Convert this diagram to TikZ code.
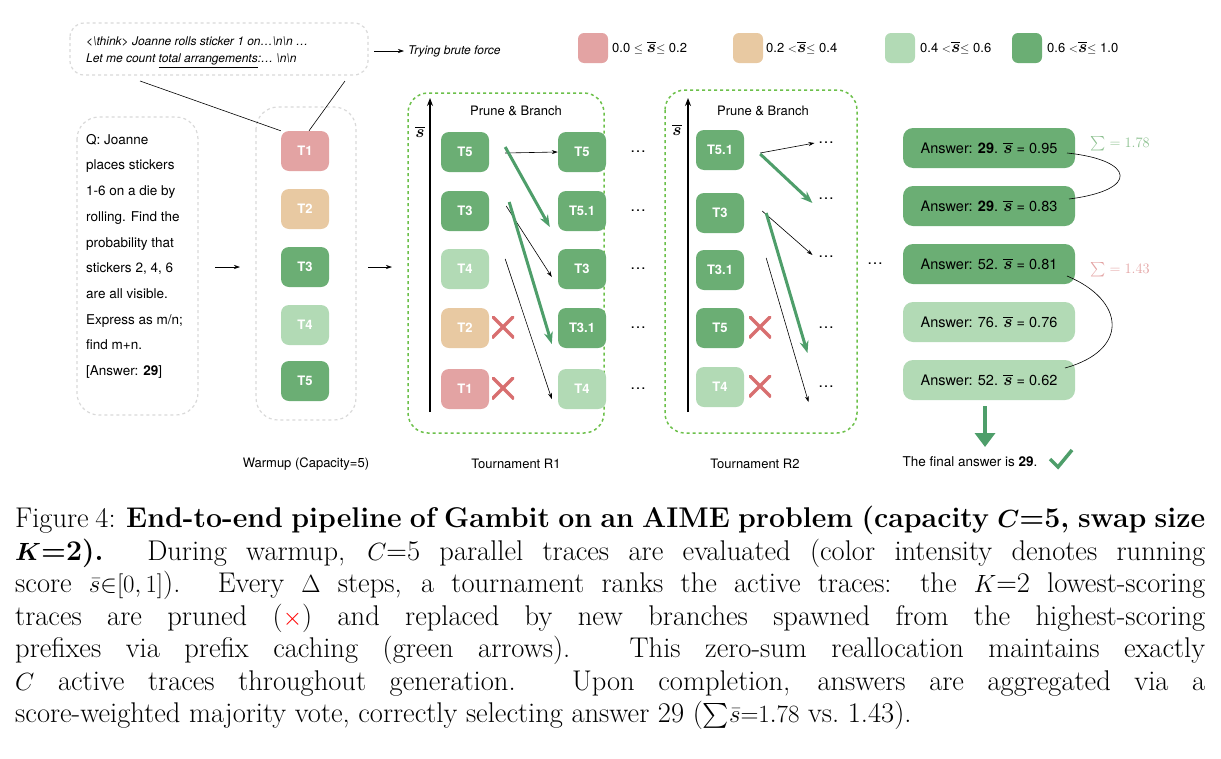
\documentclass[tikz,border=0pt]{standalone}
\usepackage{fontspec}
\usepackage{amsmath}
\newfontfamily\hel{TeX Gyre Heros}
\usetikzlibrary{arrows.meta}
\definecolor{cpink}{HTML}{E3A3A3}
\definecolor{ctan}{HTML}{E8C9A2}
\definecolor{clight}{HTML}{B2DAB5}
\definecolor{cdark}{HTML}{6BAE74}
\definecolor{carr}{HTML}{4E9E6A}
\definecolor{ccross}{HTML}{D86F70}
\definecolor{cdash}{HTML}{6CC04A}
\definecolor{sumg}{HTML}{8CC08F}
\definecolor{sumr}{HTML}{E3A3A3}
\newcommand{\sbar}{{\fontsize{18}{18}\selectfont\boldmath$\overline{s}$}}
\begin{document}
\begin{tikzpicture}[x=1pt,y=-1pt,
 tr/.style={rounded corners=8pt,minimum width=48pt,minimum height=40pt,inner sep=0pt,font=\hel\fontsize{13}{13}\selectfont\bfseries,text=white},
 pk/.style={tr,fill=cpink}, tn/.style={tr,fill=ctan}, lg/.style={tr,fill=clight}, dg/.style={tr,fill=cdark},
 gbox/.style={draw=black!15,dashed,line width=1.2pt,rounded corners=22pt},
 grn/.style={draw=cdash,dashed,line width=1.5pt,rounded corners=20pt},
 thin/.style={-{Stealth[length=6pt,width=4pt]},line width=0.6pt},
 thick/.style={-{Stealth[length=12pt,width=9pt]},line width=3pt,draw=carr},
 cross/.style={minimum size=22pt,inner sep=0pt,
   path picture={\draw[ccross,line width=3.5pt] (path picture bounding box.north west)--(path picture bounding box.south east) (path picture bounding box.north east)--(path picture bounding box.south west);}},
 dots/.style={font=\hel\fontsize{16}{16}\selectfont},
 lbl/.style={font=\hel\fontsize{13}{13}\selectfont},
 ans/.style={rounded corners=10pt,minimum width=172pt,minimum height=40pt,inner sep=0pt,font=\hel\fontsize{14.5}{14.5}\selectfont},
 sw/.style={rounded corners=6pt,minimum width=30pt,minimum height=30pt,inner sep=0pt}]
\useasboundingbox (0,0) rectangle (1221,758);
% question
\draw[gbox] (77,117) rectangle (198,415);
\node[anchor=north west,align=left,inner sep=0pt,font=\hel\fontsize{13.5}{25.7}\selectfont] (q) at (86,134)
 {Q: Joanne\\places stickers\\1-6 on a die by\\rolling. Find the\\probability that\\stickers 2, 4, 6\\are all visible.\\Express as m/n;\\find m+n.\\{[}Answer: \textbf{29}{]}};
% callout
\draw[gbox,rounded corners=14pt] (70,23) rectangle (368,75);
\node[anchor=north west,align=left,inner sep=0pt,font=\hel\itshape\fontsize{12}{16.5}\selectfont] (call) at (86,37)
 {<\textbackslash think> Joanne rolls sticker 1 on…\textbackslash n\textbackslash n …\\Let me count \underline{total arrangements}:… \textbackslash n\textbackslash n};
\coordinate (c1) at (140,81); \coordinate (c2) at (345,81);
\coordinate (b1) at (374,51);
\node[anchor=west,inner sep=0pt,font=\hel\itshape\fontsize{12}{12}\selectfont] (brute) at (408,51) {Trying brute force};
\draw[thin] (b1) -- ([xshift=-4pt]brute.west);
% legend
\node[sw,fill=cpink] (l1) at (593,48) {};
\node[anchor=west,lbl,inner sep=0pt] at (612,48) {0.0 $\leq$ \sbar$\leq$ 0.2};
\node[sw,fill=ctan] (l2) at (748,48) {};
\node[anchor=west,lbl,inner sep=0pt] at (766,48) {0.2 $<$\sbar$\leq$ 0.4};
\node[sw,fill=clight] (l3) at (900,48) {};
\node[anchor=west,lbl,inner sep=0pt] at (920,48) {0.4 $<$\sbar$\leq$ 0.6};
\node[sw,fill=cdark] (l4) at (1027,48) {};
\node[anchor=west,lbl,inner sep=0pt] at (1047,48) {0.6 $<$\sbar$\leq$ 1.0};
% warmup
\draw[gbox] (256,107) rectangle (356,420);
\node[pk] (w1) at (305,151) {T1};
\node[tn] (w2) at (305,209) {T2};
\node[dg] (w3) at (305,267) {T3};
\node[lg] (w4) at (305,325) {T4};
\node[dg] (w5) at (305,381) {T5};
\node[lbl] at (306,464) {Warmup (Capacity=5)};
\draw[line width=0.6pt] (c1) -- (w1.north west);
\draw[line width=0.6pt] (c2) -- ([xshift=4pt]w1.north);
\coordinate (a1) at (215,267); \coordinate (a2) at (240,267);
\draw[thin] (a1) -- (a2);
\coordinate (a3) at (368,267); \coordinate (a4) at (392,267);
\draw[thin] (a3) -- (a4);
% R1
\draw[grn] (408,93) rectangle (604,433);
\coordinate (ax1b) at (430,412); \coordinate (ax1t) at (430,98);
\draw[-{Stealth[length=8pt,width=6pt]},line width=1.2pt] (ax1b) -- (ax1t);
\node at (420,132) {\sbar};
\node[lbl] at (516,111) {Prune \& Branch};
\node[dg] (r1a) at (465,152) {T5};
\node[dg] (r1b) at (465,211) {T3};
\node[lg] (r1c) at (465,269) {T4};
\node[tn] (r1d) at (465,328) {T2};
\node[pk] (r1e) at (465,389) {T1};
\node[cross] (x1) at (503,327) {};
\node[cross] (x2) at (503,388) {};
\node[dg] (s1a) at (582,152) {T5};
\node[dg] (s1b) at (582,211) {T5.1};
\node[dg] (s1c) at (582,269) {T3};
\node[dg] (s1d) at (582,328) {T3.1};
\node[lg] (s1e) at (582,389) {T4};
\draw[thin] ([xshift=16pt,yshift=-1pt]r1a.east) -- (s1a.west);
\draw[thick] ([xshift=16pt,yshift=5pt]r1a.east) -- ([xshift=-8pt,yshift=-16pt]s1b.west);
\draw[thin] ([xshift=17pt,yshift=5pt]r1b.east) -- ([xshift=-6pt,yshift=-8pt]s1c.west);
\draw[thick] ([xshift=20pt,yshift=9pt]r1b.east) -- ([xshift=-6pt,yshift=-16pt]s1d.west);
\draw[thin] ([xshift=16pt,yshift=10pt]r1c.east) -- ([xshift=-6pt,yshift=-10pt]s1e.west);
\foreach \y in {152,211,269,328,389} \node[dots] at (638,\y) {…};
\node[lbl] at (516,464) {Tournament R1};
% R2
\draw[grn] (665,90) rectangle (857,433);
\coordinate (ax2b) at (688,412); \coordinate (ax2t) at (688,98);
\draw[-{Stealth[length=8pt,width=6pt]},line width=1.2pt] (ax2b) -- (ax2t);
\node at (677,130) {\sbar};
\node[lbl] at (763,111) {Prune \& Branch};
\node[dg] (r2a) at (720,150) {T5.1};
\node[dg] (r2b) at (720,213) {T3};
\node[dg] (r2c) at (720,270) {T3.1};
\node[dg] (r2d) at (720,328) {T5};
\node[lg] (r2e) at (720,387) {T4};
\node[cross] (x3) at (760,327) {};
\node[cross] (x4) at (760,386) {};
\node[dots] (d1) at (826,143) {…};
\node[dots] (d2) at (826,199) {…};
\node[dots] (d3) at (826,257) {…};
\node[dots] (d4) at (826,328) {…};
\node[dots] (d5) at (826,387) {…};
\draw[thin] ([xshift=16pt,yshift=-3pt]r2a.east) -- (d1.west);
\draw[thick] ([xshift=16pt,yshift=-4pt]r2a.east) -- ([xshift=-2pt,yshift=-4pt]d2.west);
\draw[thin] ([xshift=18pt,yshift=2pt]r2b.east) -- ([xshift=-2pt,yshift=2pt]d3.west);
\draw[thick] ([xshift=22pt,yshift=0pt]r2b.east) -- ([xshift=-7pt,yshift=-25pt]d4.west);
\draw[thin] ([xshift=22pt,yshift=12pt]r2c.east) -- ([xshift=-6pt,yshift=-15pt]d5.west);
\node[lbl] at (755,464) {Tournament R2};
\node[dots] at (875,264) {…};
% answers
\node[ans,fill=cdark] (n1) at (989,148) {Answer: \textbf{29}. \sbar\ = 0.95};
\node[ans,fill=cdark] (n2) at (989,206) {Answer: \textbf{29}. \sbar\ = 0.83};
\node[ans,fill=cdark] (n3) at (989,264) {Answer: 52. \sbar\ = 0.81};
\node[ans,fill=clight] (n4) at (989,322) {Answer: 76. \sbar\ = 0.76};
\node[ans,fill=clight] (n5) at (989,380) {Answer: 52. \sbar\ = 0.62};
\node[text=sumg,font=\fontsize{15}{15}\selectfont] at (1120,144) {$\sum = 1.78$};
\node[text=sumr,font=\fontsize{15}{15}\selectfont] at (1120,270) {$\sum = 1.43$};
\coordinate (k1) at (1067,153); \coordinate (k2) at (1069,199);
\coordinate (k3) at (1067,276); \coordinate (k4) at (1065,368);
\draw[line width=0.6pt] (k1) .. controls (1135,160) and (1140,190) .. (k2);
\draw[line width=0.6pt] (k3) .. controls (1125,300) and (1130,350) .. (k4);
\coordinate (dn) at (985,447);
\draw[-{Triangle[length=14pt,width=20pt]},line width=4pt,draw=carr] (n5.south -| dn) ++(0,6) -- (dn);
\node[lbl,anchor=west,font=\hel\fontsize{13.5}{13.5}\selectfont] (fin) at (899,462) {The final answer is \textbf{29}.};
\coordinate (ck1) at (1050,459); \coordinate (ck2) at (1058,467); \coordinate (ck3) at (1072,450);
\draw[carr,line width=3.5pt] (ck1) -- (ck2) -- (ck3);
% caption
\node[anchor=north west,inner sep=0pt,text width=1190pt,align=justify,font=\fontsize{28.5}{32.5}\selectfont] (cap) at (15,506)
{Figure 4: \textbf{End-to-end pipeline of Gambit on an AIME problem (capacity {\boldmath$C$}=5, swap size}\linebreak
\textbf{{\boldmath$K$}=2).} During warmup, $C$=5 parallel traces are evaluated (color intensity denotes running\linebreak
score $\bar{s}{\in}[0,1]$). Every $\Delta$ steps, a tournament ranks the active traces: the $K$=2 lowest-scoring\linebreak
traces are pruned ({\color{red}$\times$}) and replaced by new branches spawned from the highest-scoring\linebreak
prefixes via prefix caching (green arrows). This zero-sum reallocation maintains exactly\linebreak
$C$ active traces throughout generation. Upon completion, answers are aggregated via a\linebreak
score-weighted majority vote, correctly selecting answer 29 (${\textstyle\sum}\bar{s}{=}1.78$ vs.\ 1.43).};
\end{tikzpicture}
\end{document}
